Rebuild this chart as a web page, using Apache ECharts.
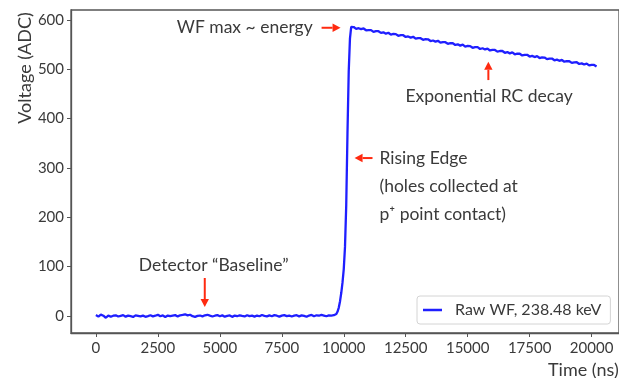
<!DOCTYPE html>
<html>
<head>
<meta charset="utf-8">
<script src="https://cdn.jsdelivr.net/npm/echarts@6/dist/echarts.min.js"></script>
<style>
  html, body { margin: 0; padding: 0; background: #fff; }
  #chart { width: 619px; height: 378px; }
</style>
</head>
<body>
<div id="chart"></div>
<script>
// Raw germanium detector waveform (ADC counts vs. time in ns)
const sampleStepNs = 100;

// Pre-trigger baseline, sampled every 100 ns from 0 to 9600 ns
const baselineValues = [
  1.9, -1.3, 2.8, 0.5, -3.6, 0.9, -1.7, 0.6, 1.4, -1.1,
  0.3, 1.7, -1.4, 0.8, -0.5, -1.9, 1.2, 0.2, -1.0, 0.6,
  -1.6, -0.3, 1.4, -0.8, 0.5, 2.6, -0.6, 1.1, -2.0, 0.9,
  -0.3, 0.8, 1.7, -0.9, 1.4, 2.1, 3.4, 1.2, 2.5, -0.5,
  -1.7, 0.3, 0.9, -0.8, 1.4, 2.4, 0.6, -1.1, 0.5, 1.8,
  -0.6, 1.2, -1.4, 0.3, 1.1, -1.8, 0.8, -0.5, 1.4, 0.2,
  -0.9, 1.5, -0.3, 0.6, -1.2, 0.9, -0.6, 2.0, 0.3, -0.8,
  1.1, -0.5, 1.7, 0.5, -1.4, 0.8, 1.8, -0.3, 0.9, -1.1,
  0.6, 1.5, -0.8, 1.2, 0.3, -1.5, 0.9, 2.2, -0.5, 1.4,
  0.5, 2.1, 0.9, -0.6, 1.2, 0.8, 1.5
];

// Rising edge (charge collection), finer sampling
const riseTimes = [9650, 9700, 9750, 9800, 9850, 9900, 9950, 10000, 10050, 10100, 10150, 10200, 10250, 10300];
const riseValues = [1.5, 4, 9, 17, 30, 47, 68, 95, 140, 225, 370, 495, 562, 586];

// Tail after the maximum, sampled every 100 ns from 10400 ns
const tailStartNs = 10400;
const tailValues = [
  585.5, 581.8, 583.1, 581.2, 582.6, 578.9, 579.3, 579.3, 575.7, 577.1,
  577.0, 573.6, 574.8, 572.1, 573.9, 570.2, 571.5, 571.2, 567.8, 568.9,
  568.9, 565.3, 566.4, 564.1, 565.7, 562.0, 563.1, 562.9, 559.6, 560.8,
  560.6, 557.1, 558.2, 556.0, 557.6, 553.9, 555.0, 554.8, 551.5, 552.7,
  552.6, 549.2, 550.4, 547.8, 549.7, 545.9, 547.1, 546.9, 543.4, 544.8,
  544.7, 541.0, 542.5, 540.1, 541.8, 538.0, 539.2, 539.0, 535.6, 536.9,
  536.9, 533.3, 534.7, 532.1, 534.0, 530.3, 531.5, 531.3, 527.9, 529.2,
  529.2, 525.7, 527.0, 524.6, 526.4, 522.7, 524.0, 523.7, 520.4, 521.6,
  521.6, 518.1, 519.4, 517.0, 518.8, 515.2, 516.4, 516.2, 512.9, 514.0,
  514.1, 510.6, 511.9, 509.5, 511.3, 507.7, 509.0, 508.7, 505.5
];

const xTicks = [0, 2500, 5000, 7500, 10000, 12500, 15000, 17500, 20000];
const yTicks = [0, 100, 200, 300, 400, 500, 600];

const seriesName = 'Raw WF, 238.48 keV';

const waveform = [];
baselineValues.forEach((v, i) => waveform.push([i * sampleStepNs, v]));
riseTimes.forEach((t, i) => waveform.push([t, riseValues[i]]));
tailValues.forEach((v, i) => waveform.push([tailStartNs + i * sampleStepNs, v]));

const FONT = 'Lato';
const TEXT = '#3a3a3a';
const AXIS = '#555';
const ARROW = '#ff2a10';

const chart = echarts.init(document.getElementById('chart'), null, { renderer: 'canvas' });

chart.setOption({
  animation: false,
  textStyle: { fontFamily: FONT },
  grid: {
    left: 71, top: 10, right: -1, bottom: 45,
    show: true, borderColor: AXIS, borderWidth: 1.3, backgroundColor: '#fff'
  },
  xAxis: {
    type: 'value', min: -1005, max: 21105,
    splitLine: { show: false },
    axisLine: { show: true, onZero: false, lineStyle: { color: AXIS, width: 1.3 } },
    axisTick: { show: true, length: 4, customValues: xTicks, lineStyle: { color: AXIS, width: 1 } },
    axisLabel: { customValues: xTicks, formatter: v => String(v), color: TEXT, fontSize: 15, fontFamily: FONT, margin: 8 }
  },
  yAxis: {
    type: 'value', min: -34.5, max: 620,
    splitLine: { show: false },
    axisLine: { show: true, onZero: false, lineStyle: { color: AXIS, width: 1.3 } },
    axisTick: { show: true, length: 4, customValues: yTicks, lineStyle: { color: AXIS, width: 1 } },
    axisLabel: { customValues: yTicks, formatter: v => String(v), color: TEXT, fontSize: 15, fontFamily: FONT, margin: 7 }
  },
  legend: {
    show: true, left: 417, top: 296,
    data: [seriesName],
    icon: 'rect', itemWidth: 19, itemHeight: 2.5,
    padding: [6, 9, 6, 6],
    borderColor: '#d4d4d4', borderWidth: 1, borderRadius: 3, backgroundColor: '#fff',
    textStyle: { color: TEXT, fontSize: 16, fontFamily: FONT, padding: [0, 0, 0, 8] }
  },
  series: [{
    name: seriesName, type: 'line', data: waveform,
    showSymbol: false, symbol: 'none',
    lineStyle: { color: '#1f1fff', width: 2.3 },
    itemStyle: { color: '#1f1fff' }
  }]
});

// Annotations anchored in data coordinates
function px(t, v) { return chart.convertToPixel({ gridIndex: 0 }, [t, v]); }

function arrow(from, to) {
  const a = px(from[0], from[1]);
  const b = px(to[0], to[1]);
  const dx = b[0] - a[0], dy = b[1] - a[1];
  const len = Math.hypot(dx, dy);
  const ux = dx / len, uy = dy / len;
  const headLen = 8, headHalf = 4.2;
  const base = [b[0] - ux * headLen, b[1] - uy * headLen];
  return [
    { type: 'line', shape: { x1: a[0], y1: a[1], x2: base[0], y2: base[1] },
      style: { stroke: ARROW, lineWidth: 2 }, z: 10 },
    { type: 'polygon', shape: { points: [
        [b[0], b[1]],
        [base[0] - uy * headHalf, base[1] + ux * headHalf],
        [base[0] + uy * headHalf, base[1] - ux * headHalf]
      ] }, style: { fill: ARROW }, z: 10 }
  ];
}

function label(t, v, text, align) {
  const p = px(t, v);
  return { type: 'text', x: p[0], y: p[1], z: 10,
    style: { text: text, fill: TEXT, font: '17.5px ' + FONT, align: align || 'left', verticalAlign: 'middle' } };
}

const elements = [].concat(
  label(3263, 584, 'WF max ~ energy'),
  arrow([9105, 584], [9871, 584]),
  label(12490, 444, 'Exponential RC decay'),
  arrow([15834, 478], [15834, 515]),
  label(11442, 320, 'Rising Edge'),
  arrow([11160, 320], [10435, 320]),
  label(11442, 263, '(holes collected at'),
  label(11442, 205, 'p\u207A point contact)'),
  label(1732, 103, 'Detector \u201CBaseline\u201D'),
  arrow([4392, 77], [4392, 18]),
  [
    { type: 'text', x: 548, y: 370, z: 10,
      style: { text: 'Time (ns)', fill: TEXT, font: '18px ' + FONT, align: 'left', verticalAlign: 'middle' } },
    { type: 'text', x: 25, y: 68, rotation: Math.PI / 2, z: 10,
      style: { text: 'Voltage (ADC)', fill: TEXT, font: '18px ' + FONT, align: 'center', verticalAlign: 'middle' } }
  ]
);

chart.setOption({ graphic: { elements: elements } });
</script>
</body>
</html>
